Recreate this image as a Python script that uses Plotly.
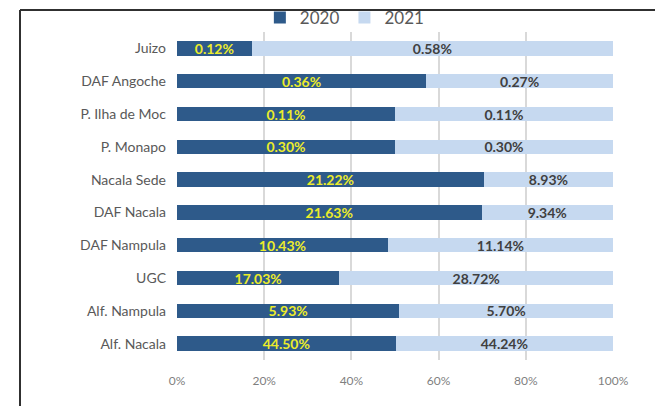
import plotly.graph_objects as go

categories = ["Juizo", "DAF Angoche", "P. Ilha de Moc", "P. Monapo", "Nacala Sede",
              "DAF Nacala", "DAF Nampula", "UGC", "Alf. Nampula", "Alf. Nacala"]
values_2020 = [0.12, 0.36, 0.11, 0.30, 21.22, 21.63, 10.43, 17.03, 5.93, 44.50]
values_2021 = [0.58, 0.27, 0.11, 0.30, 8.93, 9.34, 11.14, 28.72, 5.70, 44.24]
tick_vals = [0, 20, 40, 60, 80, 100]
tick_text = ["0%", "20%", "40%", "60%", "80%", "100%"]

FONT = "Lato"
W, H = 655, 398          # page body has an 8px margin
ML, MR, MT, MB = 169, 50, 24, 46
PW, PH = W - ML - MR, H - MT - MB

fig = go.Figure()
fig.add_trace(go.Bar(
    y=categories, x=values_2020, name="2020", orientation="h",
    marker=dict(color="#2E5A8A", line=dict(width=0)),
    text=[f"{v:.2f}%" for v in values_2020], textposition="inside",
    insidetextanchor="middle",
    textfont=dict(family=FONT, size=14, color="#ECEC2A", weight="bold"),
    width=0.44,
))
fig.add_trace(go.Bar(
    y=categories, x=values_2021, name="2021", orientation="h",
    marker=dict(color="#C6D9F0", line=dict(width=0)),
    text=[f"{v:.2f}%" for v in values_2021], textposition="inside",
    insidetextanchor="middle",
    textfont=dict(family=FONT, size=14, color="#404040", weight="bold"),
    width=0.44,
))

fig.update_layout(
    barmode="stack", barnorm="percent",
    width=W, height=H,
    margin=dict(l=ML, r=MR, t=MT, b=MB, autoexpand=False),
    paper_bgcolor="white", plot_bgcolor="white",
    font=dict(family=FONT, size=13, color="#595959"),
    showlegend=True,
    legend=dict(orientation="h", x=0.385, xanchor="center", y=1 + 14 / PH, yanchor="middle",
                font=dict(family=FONT, size=17, color="#595959"),
                itemwidth=30, traceorder="normal", bgcolor="rgba(0,0,0,0)"),
    uniformtext=dict(minsize=8, mode="show"),
)
fig.update_xaxes(range=[0, 100], tickvals=tick_vals, ticktext=tick_text,
                 showgrid=True, gridcolor="#D9D9D9", gridwidth=2, zeroline=False,
                 showline=False, tickfont=dict(size=12, color="#7F7F7F"), ticks="",
                 ticklabelstandoff=12, automargin=False)
fig.update_yaxes(categoryorder="array", categoryarray=categories[::-1],
                 autorange=False, range=[-0.5, len(categories) - 0.5],
                 showgrid=False, showline=False, ticks="", ticklabelstandoff=10,
                 tickfont=dict(size=14, color="#595959"), automargin=False)

# frame lines (left and top), as in the reference screenshot
fx = (12 - ML) / PW
fy = 1 + (MT - 2) / PH
fig.add_shape(type="line", xref="paper", yref="paper", x0=fx, x1=1 + MR / PW,
              y0=fy, y1=fy, line=dict(color="#303030", width=2))
fig.add_shape(type="line", xref="paper", yref="paper", x0=fx, x1=fx,
              y0=fy, y1=-MB / PH, line=dict(color="#303030", width=2))

fig.write_html("out.html")
